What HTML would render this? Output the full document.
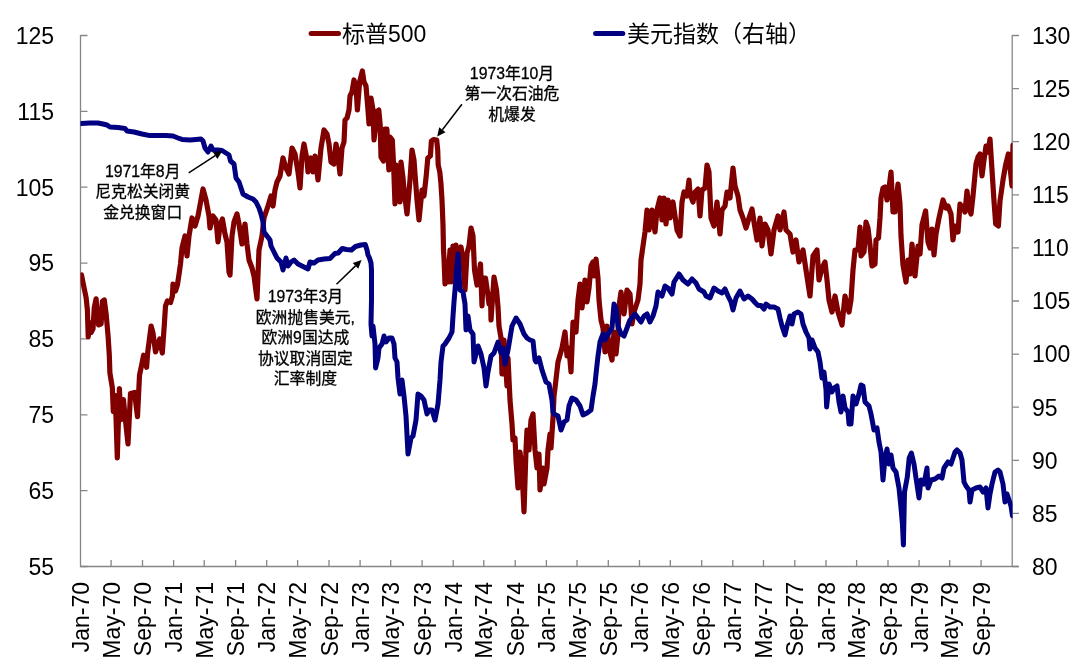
<!DOCTYPE html><html><head><meta charset="utf-8"><style>html,body{margin:0;padding:0;background:#fff}</style></head><body><svg width="1080" height="669" viewBox="0 0 1080 669" style="display:block"><rect width="1080" height="669" fill="#fff"/><path d="M80.5 35.0 V566.5 H1018.5 M1012.2 35.0 V566.5" fill="none" stroke="#868686" stroke-width="1.3"/><path d="M80.5 566.5 H87.5 M80.5 490.6 H87.5 M80.5 414.8 H87.5 M80.5 338.9 H87.5 M80.5 263.1 H87.5 M80.5 187.2 H87.5 M80.5 111.4 H87.5 M80.5 35.5 H87.5 M1012.2 566.5 H1019 M1012.2 513.4 H1019 M1012.2 460.3 H1019 M1012.2 407.2 H1019 M1012.2 354.1 H1019 M1012.2 301.0 H1019 M1012.2 247.9 H1019 M1012.2 194.8 H1019 M1012.2 141.7 H1019 M1012.2 88.6 H1019 M1012.2 35.5 H1019 M111.1 566.5 V560.0 M142.5 566.5 V560.0 M173.6 566.5 V560.0 M204.2 566.5 V560.0 M235.6 566.5 V560.0 M266.7 566.5 V560.0 M297.6 566.5 V560.0 M329.0 566.5 V560.0 M360.1 566.5 V560.0 M390.7 566.5 V560.0 M422.1 566.5 V560.0 M453.2 566.5 V560.0 M483.8 566.5 V560.0 M515.2 566.5 V560.0 M546.4 566.5 V560.0 M577.0 566.5 V560.0 M608.3 566.5 V560.0 M639.5 566.5 V560.0 M670.3 566.5 V560.0 M701.7 566.5 V560.0 M732.8 566.5 V560.0 M763.5 566.5 V560.0 M794.8 566.5 V560.0 M826.0 566.5 V560.0 M856.6 566.5 V560.0 M888.0 566.5 V560.0 M919.1 566.5 V560.0 M949.7 566.5 V560.0 M981.1 566.5 V560.0" fill="none" stroke="#868686" stroke-width="1.3"/><g font-family='"Liberation Sans", "Noto Sans CJK SC", sans-serif' font-size="23" fill="#000"><text x="54" y="574.8" text-anchor="end">55</text><text x="54" y="498.9" text-anchor="end">65</text><text x="54" y="423.1" text-anchor="end">75</text><text x="54" y="347.2" text-anchor="end">85</text><text x="54" y="271.4" text-anchor="end">95</text><text x="54" y="195.5" text-anchor="end">105</text><text x="54" y="119.7" text-anchor="end">115</text><text x="54" y="43.8" text-anchor="end">125</text><text x="1032" y="574.8">80</text><text x="1032" y="521.7">85</text><text x="1032" y="468.6">90</text><text x="1032" y="415.5">95</text><text x="1032" y="362.4">100</text><text x="1032" y="309.3">105</text><text x="1032" y="256.2">110</text><text x="1032" y="203.1">115</text><text x="1032" y="150.0">120</text><text x="1032" y="96.9">125</text><text x="1032" y="43.8">130</text><text transform="translate(89.0,582) rotate(-90)" text-anchor="end">Jan-70</text><text transform="translate(119.6,582) rotate(-90)" text-anchor="end">May-70</text><text transform="translate(151.0,582) rotate(-90)" text-anchor="end">Sep-70</text><text transform="translate(182.1,582) rotate(-90)" text-anchor="end">Jan-71</text><text transform="translate(212.7,582) rotate(-90)" text-anchor="end">May-71</text><text transform="translate(244.1,582) rotate(-90)" text-anchor="end">Sep-71</text><text transform="translate(275.2,582) rotate(-90)" text-anchor="end">Jan-72</text><text transform="translate(306.1,582) rotate(-90)" text-anchor="end">May-72</text><text transform="translate(337.5,582) rotate(-90)" text-anchor="end">Sep-72</text><text transform="translate(368.6,582) rotate(-90)" text-anchor="end">Jan-73</text><text transform="translate(399.2,582) rotate(-90)" text-anchor="end">May-73</text><text transform="translate(430.6,582) rotate(-90)" text-anchor="end">Sep-73</text><text transform="translate(461.7,582) rotate(-90)" text-anchor="end">Jan-74</text><text transform="translate(492.3,582) rotate(-90)" text-anchor="end">May-74</text><text transform="translate(523.7,582) rotate(-90)" text-anchor="end">Sep-74</text><text transform="translate(554.9,582) rotate(-90)" text-anchor="end">Jan-75</text><text transform="translate(585.5,582) rotate(-90)" text-anchor="end">May-75</text><text transform="translate(616.8,582) rotate(-90)" text-anchor="end">Sep-75</text><text transform="translate(648.0,582) rotate(-90)" text-anchor="end">Jan-76</text><text transform="translate(678.8,582) rotate(-90)" text-anchor="end">May-76</text><text transform="translate(710.2,582) rotate(-90)" text-anchor="end">Sep-76</text><text transform="translate(741.3,582) rotate(-90)" text-anchor="end">Jan-77</text><text transform="translate(772.0,582) rotate(-90)" text-anchor="end">May-77</text><text transform="translate(803.3,582) rotate(-90)" text-anchor="end">Sep-77</text><text transform="translate(834.5,582) rotate(-90)" text-anchor="end">Jan-78</text><text transform="translate(865.1,582) rotate(-90)" text-anchor="end">May-78</text><text transform="translate(896.5,582) rotate(-90)" text-anchor="end">Sep-78</text><text transform="translate(927.6,582) rotate(-90)" text-anchor="end">Jan-79</text><text transform="translate(958.2,582) rotate(-90)" text-anchor="end">May-79</text><text transform="translate(989.6,582) rotate(-90)" text-anchor="end">Sep-79</text></g><path d="M311.1 33.6 H338.5" stroke="#800000" stroke-width="5" stroke-linecap="round"/><path d="M595.6 33.6 H622.8" stroke="#000080" stroke-width="5" stroke-linecap="round"/><g font-family='"Liberation Sans", "Noto Sans CJK SC", sans-serif' font-size="23" fill="#000"><text x="342" y="41.5">标普500</text><text x="627" y="41.5">美元指数（右轴）</text></g><defs><clipPath id="pc"><rect x="80.5" y="0" width="932" height="669"/></clipPath></defs><g clip-path="url(#pc)"><polyline points="81.5,275.0 84.3,289.0 86.1,297.5 87.4,310.0 88.2,337.0 89.9,322.5 91.1,332.5 93.0,328.8 94.3,307.5 96.1,298.8 97.4,315.0 98.6,325.0 101.1,323.8 102.4,301.3 104.3,300.0 106.1,313.8 108.0,335.0 109.3,355.0 109.9,373.0 112.3,387.5 113.3,411.7 115.3,395.5 117.3,458.0 119.4,388.5 120.8,419.7 123.4,399.6 125.4,419.7 128.0,444.0 130.5,393.5 134.5,392.5 137.5,416.7 139.5,375.4 141.6,365.3 143.6,355.2 146.6,367.3 147.6,353.2 151.1,326.0 153.0,333.0 155.5,352.0 159.7,339.0 162.3,353.0 164.3,325.0 165.5,306.0 167.4,301.0 170.5,302.5 172.4,296.0 173.0,284.0 175.5,291.0 177.4,285.0 179.3,272.5 180.5,263.8 182.0,248.0 185.0,236.0 187.0,256.0 189.0,236.0 192.0,218.0 195.0,226.0 198.0,216.0 203.0,189.0 206.0,200.0 209.0,216.0 210.0,228.0 213.0,216.0 216.0,220.0 218.0,242.0 220.0,226.0 222.4,219.0 225.0,234.0 227.0,242.0 229.0,272.0 230.0,275.0 232.0,236.0 234.0,222.0 237.0,214.0 239.0,224.0 242.0,244.0 245.0,224.0 247.0,244.0 249.0,260.0 252.0,268.0 254.0,276.0 257.0,299.0 259.0,250.0 262.0,236.0 264.0,218.0 268.0,206.0 271.0,196.0 273.0,206.0 275.0,190.0 277.0,182.0 280.0,176.0 283.0,158.0 286.0,168.0 289.0,174.0 292.0,148.0 295.0,154.0 298.0,172.0 300.0,188.0 302.0,156.0 304.0,144.0 307.0,160.0 308.0,172.0 311.0,158.0 313.0,172.0 315.0,156.0 318.0,180.0 321.0,148.0 324.0,130.0 327.0,134.0 329.0,144.0 331.0,162.0 334.0,164.0 336.0,144.0 338.0,156.0 340.0,174.0 342.0,148.0 344.0,142.0 345.0,120.0 347.0,118.0 349.0,110.0 350.0,96.0 352.0,92.0 354.0,80.0 356.0,86.0 357.4,110.0 359.6,82.0 362.4,71.0 364.0,82.0 366.0,86.0 368.0,110.0 369.0,124.0 371.0,98.0 373.0,110.0 374.0,140.0 375.5,127.6 376.8,111.5 378.8,110.0 380.2,125.0 381.0,157.0 383.5,161.0 384.9,129.0 386.9,129.0 388.0,155.0 388.9,170.0 390.0,137.0 392.3,140.0 393.6,165.0 395.0,204.0 396.3,165.0 398.0,170.0 400.0,202.0 401.0,162.0 403.0,178.0 404.0,190.0 407.0,214.0 410.0,180.0 412.0,150.0 414.0,160.0 415.0,174.0 417.0,200.0 419.0,220.0 422.0,190.0 424.0,196.0 426.2,176.0 427.8,158.0 430.4,156.0 431.4,141.0 433.5,139.5 436.7,140.0 437.7,150.0 438.2,165.0 439.8,172.0 440.9,183.0 442.0,200.0 443.0,225.0 443.5,250.0 444.0,258.0 445.0,284.0 447.0,262.0 448.0,282.0 450.0,250.0 451.0,282.0 453.0,246.0 454.0,270.0 456.0,245.0 458.0,262.0 461.0,247.0 463.0,260.0 465.0,290.0 467.0,253.0 469.0,246.0 471.0,228.0 473.0,236.0 474.5,270.0 477.0,285.0 480.5,264.0 482.0,306.0 483.0,278.0 485.5,278.0 487.5,292.0 489.0,304.0 490.5,295.0 491.0,320.0 494.0,277.0 496.5,290.0 498.0,307.0 499.0,326.0 501.0,338.0 502.0,374.0 504.0,340.0 507.0,386.0 508.0,358.0 510.0,400.0 512.0,424.0 513.0,440.0 515.0,438.0 516.0,460.0 518.0,488.0 520.0,452.0 522.0,470.0 524.0,512.0 526.0,450.0 527.0,430.0 529.0,450.0 531.0,420.0 533.0,414.0 535.0,450.0 537.0,468.0 539.0,454.0 540.0,490.0 543.0,468.0 544.0,484.0 547.0,468.0 548.0,450.0 550.0,434.0 551.0,448.0 553.0,418.0 554.0,396.0 555.0,388.0 558.0,362.0 562.0,348.0 565.0,332.0 567.0,356.0 569.0,348.0 571.0,372.0 573.0,322.0 576.0,332.0 578.0,300.0 580.0,284.0 582.0,308.0 585.0,280.0 587.0,302.0 589.0,288.0 591.0,266.0 593.0,262.0 594.0,276.0 596.0,259.0 598.0,278.0 599.0,300.0 601.0,320.0 603.0,328.0 605.0,352.0 607.0,326.0 609.0,348.0 612.0,360.0 614.0,332.0 616.0,354.0 618.0,334.0 619.0,306.0 621.0,292.0 624.0,314.0 627.0,290.0 630.0,294.0 632.0,324.0 634.0,312.0 638.0,300.0 640.0,284.0 641.0,260.0 643.0,246.0 645.0,232.0 647.0,210.0 649.0,230.0 652.0,210.0 655.0,232.0 657.0,210.0 660.0,198.0 662.0,220.0 664.0,198.0 666.0,224.0 668.0,200.0 670.0,218.0 673.0,202.0 675.0,216.0 677.0,230.0 680.0,236.0 682.0,202.0 684.0,192.0 687.0,196.0 689.0,180.0 690.0,194.0 693.0,202.0 695.0,192.0 698.0,189.0 700.0,216.0 702.0,190.0 705.0,188.0 707.0,165.0 709.0,172.0 711.0,218.0 714.0,226.0 717.0,202.0 720.0,234.0 722.0,210.0 725.0,206.0 727.0,192.0 730.0,198.0 733.0,168.0 735.0,186.0 738.0,196.0 740.0,210.0 743.0,218.0 746.0,228.0 749.0,218.0 752.0,209.0 754.0,222.0 757.0,240.0 760.0,218.0 762.0,246.0 765.0,224.0 768.0,230.0 771.0,254.0 774.0,230.0 778.0,216.0 780.0,230.0 784.0,212.0 786.0,230.0 790.0,234.0 793.0,252.0 796.0,240.0 799.0,262.0 803.0,250.0 806.0,270.0 810.0,296.0 813.0,256.0 817.0,250.0 819.0,280.0 822.0,268.0 825.0,262.0 827.0,280.0 829.0,300.0 832.0,312.0 835.0,296.0 838.0,312.0 842.0,325.0 845.0,296.0 849.0,312.0 851.0,300.0 853.0,270.0 855.0,250.0 858.0,250.0 860.0,227.0 861.0,256.0 864.0,252.0 866.0,222.0 868.0,228.0 870.0,245.0 872.0,266.0 875.0,264.0 876.0,240.0 878.5,238.0 880.0,218.0 881.0,198.0 883.0,188.0 885.0,187.0 887.0,200.0 889.0,188.0 891.0,172.0 893.0,212.0 895.0,212.0 898.0,184.0 900.0,204.0 901.0,236.0 903.0,265.0 906.0,282.0 908.0,260.0 910.0,274.0 912.0,244.0 915.0,276.0 918.0,246.0 920.0,254.0 922.0,225.0 925.6,211.0 928.0,242.0 930.0,248.0 932.0,229.0 934.0,255.0 936.0,234.0 939.0,218.0 943.0,200.0 946.0,208.0 948.0,206.0 951.0,214.0 953.0,240.0 955.0,226.0 958.0,232.0 960.0,204.0 963.0,208.0 965.0,212.0 967.0,191.0 969.0,208.0 971.0,214.0 973.0,196.0 976.0,164.0 978.0,157.0 980.0,154.0 982.0,176.0 984.0,160.0 986.0,146.0 988.0,152.0 990.0,139.0 992.0,170.0 994.0,201.0 995.7,224.0 998.4,226.0 1000.0,201.0 1003.0,180.0 1005.6,165.0 1008.3,154.0 1010.0,167.0 1012.0,186.0 1013.0,145.0" fill="none" stroke="#800000" stroke-width="5.2" stroke-linejoin="round" stroke-linecap="round"/><polyline points="81.0,123.6 90.0,123.0 98.0,123.0 103.0,124.0 107.0,125.0 110.0,127.0 118.0,127.6 125.0,128.4 127.0,131.0 134.0,132.0 142.0,134.0 150.0,135.6 158.0,135.6 166.0,135.6 173.0,136.0 178.0,138.0 182.0,139.4 190.0,140.0 196.0,139.4 201.0,139.0 203.0,141.0 205.0,148.0 208.0,152.0 211.0,146.0 213.0,150.0 218.0,150.0 222.0,150.5 226.0,153.0 229.0,155.0 230.5,161.0 234.0,164.0 235.0,171.0 236.0,178.0 239.0,182.0 241.0,188.0 243.0,194.0 248.0,197.0 253.0,199.0 256.0,202.0 259.0,208.0 261.0,214.0 263.0,222.0 264.0,232.0 267.0,236.0 270.0,240.0 271.0,246.0 274.0,252.0 277.0,258.0 281.0,262.0 283.0,270.0 286.0,258.0 288.0,266.0 291.0,262.0 294.0,260.0 298.0,264.0 302.0,266.0 308.0,269.0 310.0,262.0 314.0,263.0 318.0,260.0 324.0,259.0 330.0,258.5 334.9,253.5 338.2,253.0 342.3,248.5 346.4,249.5 351.4,250.0 355.5,246.5 361.0,245.0 365.3,244.5 367.0,250.0 368.0,255.0 369.5,258.0 371.0,263.0 371.5,270.0 371.5,300.0 371.0,324.0 372.0,336.0 373.0,326.0 375.0,344.0 375.6,368.0 378.0,358.0 379.0,348.0 382.0,344.0 384.0,336.0 386.0,342.0 389.0,338.0 392.0,338.0 394.0,344.0 395.0,358.0 397.0,362.0 398.0,378.0 400.0,394.0 402.0,380.0 404.0,396.0 406.0,416.0 408.0,454.0 411.0,438.0 413.0,436.0 416.0,420.0 418.0,394.0 421.0,396.0 424.0,400.0 427.0,414.0 429.0,410.0 432.0,410.0 435.0,420.0 438.0,404.0 440.0,380.0 441.0,362.0 443.0,346.0 445.0,344.0 449.0,338.0 452.0,332.0 453.0,316.0 454.0,302.0 455.0,290.0 456.0,276.0 458.0,254.0 460.0,290.0 463.0,292.0 465.0,304.0 466.0,330.0 468.0,316.0 470.0,330.0 473.0,334.0 474.0,362.0 478.0,346.0 481.0,354.0 484.0,368.0 486.0,386.0 488.0,372.0 491.0,356.0 494.0,353.0 498.0,342.0 501.0,353.0 503.0,348.0 505.0,364.0 508.0,350.0 510.0,338.0 512.0,326.0 516.0,318.0 520.0,324.0 524.0,334.0 527.0,338.0 530.0,340.0 533.0,341.0 535.0,360.0 536.0,362.0 539.0,358.0 542.0,370.0 546.0,382.0 549.0,384.0 552.0,400.0 553.0,412.0 554.0,414.0 558.0,416.0 561.0,430.0 564.0,422.0 567.0,420.0 569.0,406.0 572.0,398.0 576.0,400.0 580.0,406.0 583.0,415.0 587.0,413.0 591.0,410.0 593.0,396.0 595.0,384.0 596.0,374.0 598.0,356.0 600.0,342.0 603.0,334.0 605.0,340.0 608.0,334.0 612.0,328.0 614.0,304.0 616.0,308.0 618.0,326.0 621.0,334.0 624.0,336.0 627.0,328.0 630.0,320.0 635.0,314.0 638.0,318.0 641.0,322.0 644.0,316.0 647.0,314.0 650.0,322.0 653.0,316.0 656.0,306.0 658.0,292.0 662.0,296.0 665.0,286.0 668.0,288.0 672.0,294.0 674.0,282.0 679.0,274.0 683.0,280.0 688.0,284.0 692.0,279.0 696.0,283.0 699.0,289.0 704.0,292.0 706.0,296.0 710.0,298.0 714.0,288.0 718.0,291.0 722.0,293.0 725.0,289.0 728.0,296.0 731.0,302.0 733.0,310.0 736.0,298.0 740.0,291.0 744.0,299.0 748.0,296.0 752.0,299.0 755.0,302.5 758.0,305.5 761.0,305.5 764.0,309.0 766.0,304.0 770.0,307.0 774.0,307.0 778.0,309.0 780.0,318.0 782.0,326.0 785.0,335.0 787.0,326.0 790.0,316.0 792.0,324.0 794.0,314.0 798.0,312.0 801.0,314.0 803.0,324.0 806.0,332.0 809.0,338.0 810.0,349.0 812.0,340.0 815.0,348.0 818.0,352.0 820.0,362.0 822.0,378.0 824.0,372.0 826.0,390.0 826.6,407.0 829.0,384.0 832.0,392.0 834.0,388.0 837.0,386.0 839.0,402.0 841.0,412.0 843.0,396.0 845.0,408.0 848.0,412.0 849.0,424.0 851.0,424.0 853.0,396.0 856.0,404.0 859.0,394.0 861.0,385.0 863.0,386.0 865.0,402.0 869.0,406.0 871.0,414.0 874.0,430.0 877.0,428.0 879.0,442.0 881.0,452.0 883.0,480.0 885.0,458.0 887.0,449.0 889.0,464.0 891.0,455.0 893.0,468.0 896.0,472.0 899.0,488.0 901.0,508.0 902.4,524.0 903.4,545.0 904.5,492.0 907.3,477.0 909.2,458.0 911.4,453.0 914.0,464.0 916.0,478.0 919.0,498.0 921.0,480.0 924.0,484.0 927.0,468.0 928.0,488.0 931.0,480.0 935.0,479.0 939.0,476.0 942.0,478.0 944.0,468.0 948.0,462.0 951.0,464.0 953.0,458.0 955.0,452.0 957.0,450.0 960.0,453.0 962.0,460.0 964.0,482.0 966.0,486.0 969.0,490.0 970.0,502.0 972.0,490.0 976.0,488.0 980.0,487.0 983.0,492.0 986.0,488.0 988.0,508.0 990.0,494.0 992.0,484.0 995.0,472.0 998.0,470.0 1000.0,472.0 1003.0,484.0 1005.0,502.0 1007.0,494.0 1009.0,500.0 1011.0,506.0 1012.5,516.0" fill="none" stroke="#000080" stroke-width="5.0" stroke-linejoin="round" stroke-linecap="round"/></g><g font-family='"Liberation Sans", "Noto Sans CJK SC", sans-serif' font-size="15.8" fill="#000" stroke="#000" stroke-width="0.3" text-anchor="middle"><text x="142.7" y="176.8">1971年8月</text><text x="142.7" y="197.2">尼克松关闭黄</text><text x="142.7" y="217.6">金兑换窗口</text></g><g font-family='"Liberation Sans", "Noto Sans CJK SC", sans-serif' font-size="15.8" fill="#000" stroke="#000" stroke-width="0.3" text-anchor="middle"><text x="305.4" y="302.3">1973年3月</text><text x="305.4" y="322.7">欧洲抛售美元,</text><text x="305.4" y="343.1">欧洲9国达成</text><text x="305.4" y="363.5">协议取消固定</text><text x="305.4" y="383.9">汇率制度</text></g><g font-family='"Liberation Sans", "Noto Sans CJK SC", sans-serif' font-size="15.8" fill="#000" stroke="#000" stroke-width="0.3" text-anchor="middle"><text x="512" y="78.8">1973年10月</text><text x="512" y="99.2">第一次石油危</text><text x="512" y="119.6">机爆发</text></g><path d="M188.7 172.9 L215.2 155.6" stroke="#000" stroke-width="1.5"/><path d="M222.3 150.9 L217.4 158.9 L213.0 152.2Z" fill="#000"/><path d="M336.5 284.3 L355.5 265.9" stroke="#000" stroke-width="1.5"/><path d="M361.6 260 L358.3 268.8 L352.7 263.0Z" fill="#000"/><path d="M461.9 104.3 L442.4 129.8" stroke="#000" stroke-width="1.5"/><path d="M437.2 136.5 L439.2 127.3 L445.5 132.2Z" fill="#000"/></svg></body></html>
